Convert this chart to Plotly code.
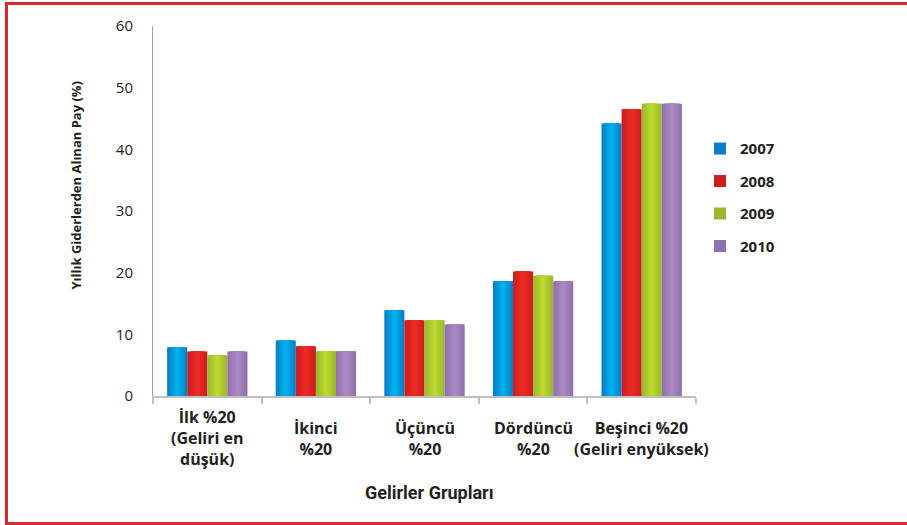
import plotly.graph_objects as go

categories = ["İlk %20<br>(Geliri en<br>düşük)", "İkinci<br>%20", "Üçüncü<br>%20",
              "Dördüncü<br>%20", "Beşinci %20<br>(Geliri enyüksek)"]
years = ["2007", "2008", "2009", "2010"]
v2007 = [7.9, 9.0, 13.9, 18.6, 44.2]
v2008 = [7.2, 8.05, 12.3, 20.2, 46.5]
v2009 = [6.6, 7.25, 12.3, 19.5, 47.4]
v2010 = [7.2, 7.25, 11.6, 18.6, 47.4]
series = [v2007, v2008, v2009, v2010]
y_ticks = [0, 10, 20, 30, 40, 50, 60]

edge_colors = ["#0a7fc6", "#cc1e20", "#9ab92e", "#9370b0"]
center_colors = ["#00b0ee", "#ec2a24", "#bdd82e", "#a98ac2"]

def hex2rgb(h):
    h = h.lstrip("#")
    return [int(h[i:i + 2], 16) for i in (0, 2, 4)]

def lerp(a, b, t):
    ca, cb = hex2rgb(a), hex2rgb(b)
    return "rgb(%d,%d,%d)" % tuple(round(ca[j] + (cb[j] - ca[j]) * t) for j in range(3))

fig = go.Figure()
bw = 0.185
n_layers = 7
for i, (yr, vals) in enumerate(zip(years, series)):
    c = -0.37 + (i + 0.5) * bw
    for k in range(n_layers):
        f = 1 - k / n_layers
        w = bw * f
        col = edge_colors[i] if k == 0 else lerp(edge_colors[i], center_colors[i], k / (n_layers - 1))
        fig.add_trace(go.Bar(
            x=categories, y=vals, name=yr,
            width=[w] * len(categories), offset=[c - w / 2] * len(categories),
            marker=dict(color=col, line=dict(width=0)),
            showlegend=(k == 0), legendgroup=yr,
            hoverinfo="skip" if k else None,
        ))

text_col = "#231f20"
annotations = []
for cat in categories:
    annotations.append(dict(x=cat, xref="x", y=-0.114, yref="paper", text=cat,
                            showarrow=False, yanchor="middle", xanchor="center",
                            font=dict(family="Open Sans", size=16, color=text_col, weight="bold")))
annotations.append(dict(x=0.51, xref="paper", y=-0.262, yref="paper", text="Gelirler Grupları",
                        showarrow=False, yanchor="middle", xanchor="center",
                        font=dict(family="Roboto", size=18, color=text_col, weight="bold")))
annotations.append(dict(x=-0.141, xref="paper", y=0.57, yref="paper",
                        text="Yıllık Giderlerden Alınan Pay (%)", textangle=-90,
                        showarrow=False, yanchor="middle", xanchor="center",
                        font=dict(family="Open Sans", size=13, color=text_col, weight="bold")))

fig.update_layout(
    width=907, height=525, autosize=False,
    margin=dict(l=153, r=211, t=26, b=129),
    paper_bgcolor="white", plot_bgcolor="white",
    barmode="overlay",
    font=dict(family="Open Sans", color=text_col),
    showlegend=True,
    legend=dict(x=1.0074, y=0.713, xanchor="left", yanchor="top",
                font=dict(family="Open Sans", size=15, color=text_col, weight="bold"),
                tracegroupgap=10, bgcolor="rgba(0,0,0,0)"),
    annotations=annotations,
    shapes=[dict(type="rect", xref="paper", yref="paper",
                 x0=-0.2698, x1=1.394, y0=-0.3446, y1=1.0608,
                 line=dict(color="#d42a30", width=3), layer="above")],
)
fig.update_xaxes(range=[-0.5, 4.5], showticklabels=False, showline=True,
                 linecolor="#bfbfbf", linewidth=2, ticks="outside", tickson="boundaries",
                 ticklen=6, tickcolor="#bfbfbf", tickwidth=2, showgrid=False, zeroline=False,
                 fixedrange=True)
fig.update_yaxes(range=[0, 60], tickvals=y_ticks, showline=True, linecolor="#a0a0a0",
                 linewidth=1, ticks="", showgrid=False, zeroline=False,
                 tickfont=dict(family="Open Sans", size=15, color=text_col),
                 ticklabelstandoff=16)

fig.write_html("out.html", config={"displayModeBar": False},
               post_script="document.body.style.margin='0px';document.body.style.overflow='hidden';")
